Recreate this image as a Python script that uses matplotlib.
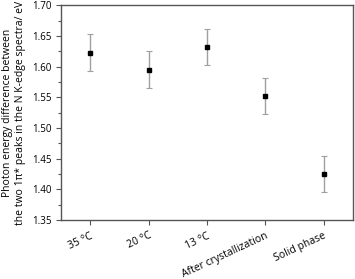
import matplotlib
matplotlib.use("Agg")
import matplotlib.pyplot as plt
import matplotlib.transforms as mtransforms
from matplotlib.ticker import MultipleLocator

plt.rcParams['font.family'] = ['Open Sans', 'DejaVu Sans']

conditions = ['35 °C', '20 °C', '13 °C', 'After crystallization', 'Solid phase']
energy_diff = [1.623, 1.595, 1.632, 1.552, 1.425]
energy_err = [0.03, 0.03, 0.03, 0.03, 0.03]

fig = plt.figure(figsize=(3.55, 2.79), dpi=100)
ax = fig.add_axes([0.172, 0.2115, 0.8215, 0.7695])

x = list(range(1, len(conditions) + 1))
ax.errorbar(x, energy_diff, yerr=energy_err, fmt='s', color='black', ms=3.5,
            ecolor='#a0a0a0', elinewidth=1, capsize=2.5, capthick=0.8)

ax.set_xlim(0.5, 5.5)
ax.set_ylim(1.35, 1.70)
ax.yaxis.set_major_locator(MultipleLocator(0.05))
ax.yaxis.set_minor_locator(MultipleLocator(0.025))
ax.set_xticks(x)
ax.set_xticklabels(conditions, rotation=25, ha='right', rotation_mode='anchor', fontsize=7.5)
# nudge the rotated labels a little right, like the original
shift = mtransforms.ScaledTranslation(6 / 72, 0, fig.dpi_scale_trans)
for lab in ax.get_xticklabels():
    lab.set_transform(lab.get_transform() + shift)

ax.tick_params(axis='both', which='major', direction='out', length=3.5, width=0.8,
               colors='#555555', labelcolor='black', labelsize=7)
ax.tick_params(axis='x', which='major', pad=4, labelsize=7.5)
ax.tick_params(axis='y', which='minor', direction='out', length=2, width=0.8, colors='#555555')
for sp in ax.spines.values():
    sp.set_color('#555555')
    sp.set_linewidth(1)

ax.set_ylabel('Photon energy difference between\nthe two 1π* peaks in the N K-edge spectra/ eV',
              fontsize=7.5, linespacing=1.3, labelpad=4)

fig.savefig('out.png', dpi=100)
